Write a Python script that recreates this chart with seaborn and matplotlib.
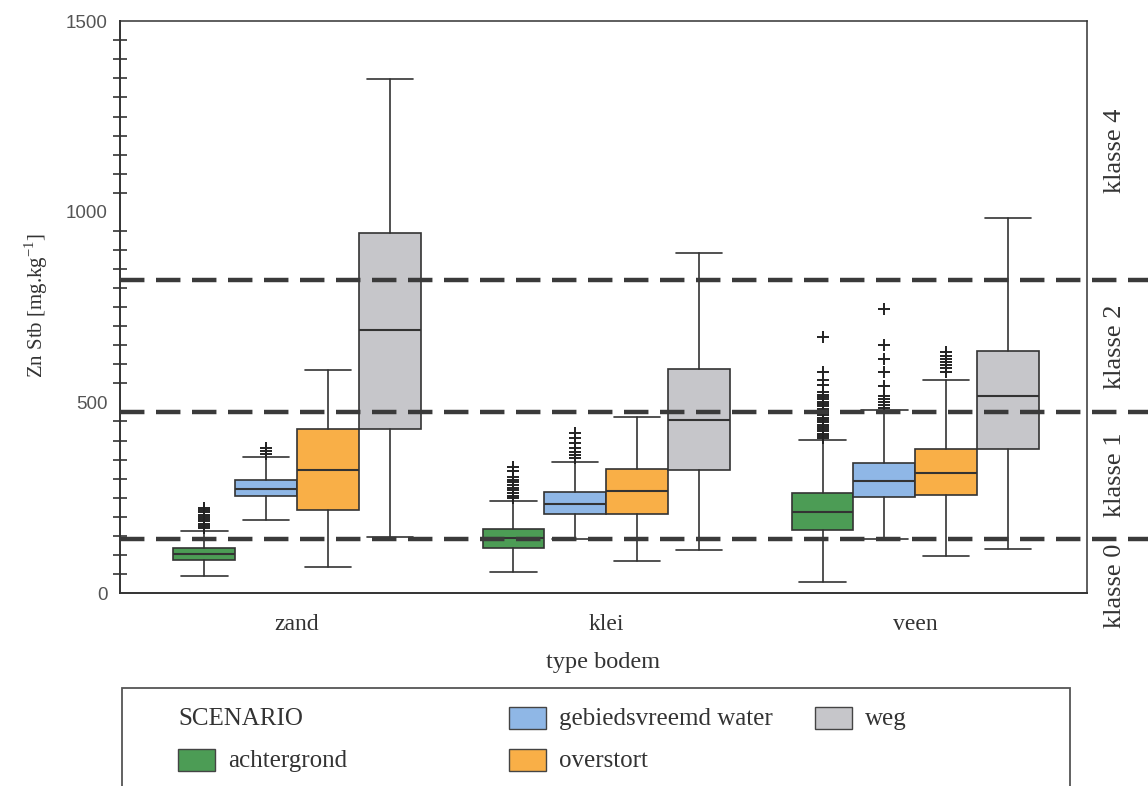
import numpy as np
import matplotlib
matplotlib.use("Agg")
from matplotlib import pyplot as plt
from matplotlib.patches import Rectangle
from matplotlib.ticker import MultipleLocator
import seaborn as sns

bodem = ["zand", "klei", "veen"]
scenarios = ["achtergrond", "gebiedsvreemd water", "overstort", "weg"]
scenario_colors = ["#4c9c55", "#8fb7e6", "#f9af47", "#c6c6ca"]

# box statistics: rows = scenario, columns = zand, klei, veen
whis_low = [[46, 56, 30], [192, 142, 142], [69, 84, 98], [147, 114, 116]]
q1 = [[87, 119, 166], [254, 207, 252], [218, 207, 257], [430, 322, 377]]
median = [[103, 145, 213], [273, 234, 294], [322, 268, 315], [690, 455, 516]]
q3 = [[119, 169, 263], [296, 265, 340], [429, 325, 377], [944, 589, 636]]
whis_high = [[163, 242, 401], [356, 343, 479], [586, 461, 560], [1349, 892, 983]]

outliers_achtergrond = [
    [170, 176, 182, 188, 194, 200, 206, 212, 218, 224],
    [248, 255, 262, 269, 276, 283, 290, 297, 304, 320, 330],
    [406, 412, 418, 424, 430, 436, 442, 448, 454, 460, 466, 472, 478,
     484, 490, 496, 502, 508, 514, 520, 527, 545, 560, 579, 672],
]
outliers_gebiedsvreemd = [
    [366, 372, 380],
    [354, 362, 370, 381, 394, 407, 420],
    [486, 492, 500, 508, 518, 544, 581, 615, 650, 744],
]
outliers_overstort = [[], [], [580, 590, 598, 606, 614, 622, 632]]
outliers_weg = [[], [], []]
outliers = [outliers_achtergrond, outliers_gebiedsvreemd, outliers_overstort, outliers_weg]

klasse_grenzen = [143, 475, 820]
klasse_labels = ["klasse 0", "klasse 1", "klasse 2", "klasse 4"]
klasse_label_y = [20, 309, 647, 1160]

sns.set_theme(style="white")
plt.rcParams["font.family"] = ["Liberation Serif", "DejaVu Serif"]
palette = sns.color_palette(scenario_colors)

fig = plt.figure(figsize=(11.48, 7.86), dpi=100)
ax = fig.add_axes([0.1045, 0.2455, 0.8425, 0.7275])

ink = "#333333"
box_w = 0.2
offsets = [-0.3, -0.1, 0.1, 0.3]
for s in range(len(scenarios)):
    stats = []
    for b in range(len(bodem)):
        stats.append(dict(whislo=whis_low[s][b], q1=q1[s][b], med=median[s][b],
                          q3=q3[s][b], whishi=whis_high[s][b], fliers=outliers[s][b]))
    pos = [b + offsets[s] for b in range(len(bodem))]
    ax.bxp(stats, positions=pos, widths=box_w, capwidths=box_w * 0.75,
           patch_artist=True, manage_ticks=False,
           boxprops=dict(facecolor=palette[s], edgecolor=ink, linewidth=1.2),
           medianprops=dict(color=ink, linewidth=1.5),
           whiskerprops=dict(color=ink, linewidth=1.2),
           capprops=dict(color=ink, linewidth=1.2),
           flierprops=dict(marker="+", markersize=9, markeredgecolor="#222222",
                           markeredgewidth=1.4, linestyle="none"))

for g in klasse_grenzen:
    ax.axhline(g, xmin=0, xmax=1.07, color="#3a3a3a", linewidth=3.2,
               dashes=(5.5, 2.6), clip_on=False, zorder=5)

for lab, yv in zip(klasse_labels, klasse_label_y):
    ax.text(1.029, yv, lab, transform=ax.get_yaxis_transform(), rotation=90,
            ha="center", va="center", fontsize=19, color=ink, clip_on=False)

ax.set_xlim(-0.573, 2.556)
ax.set_ylim(0, 1500)
ax.set_xticks(range(len(bodem)))
ax.set_xticklabels(bodem, fontsize=17, color=ink)
ax.yaxis.set_major_locator(MultipleLocator(500))
ax.yaxis.set_minor_locator(MultipleLocator(50))
ax.tick_params(axis="y", which="major", direction="inout", length=14, width=1.3,
               color=ink, labelsize=13.5, labelcolor="#555555", pad=2)
ax.tick_params(axis="y", which="minor", direction="inout", length=10, width=1.2,
               color=ink, left=True)
ax.tick_params(axis="x", which="major", direction="out", length=6, width=1.3,
               color=ink, pad=9)
for lab in ax.get_yticklabels():
    lab.set_fontfamily(["Liberation Sans", "DejaVu Sans"])
for sp in ax.spines.values():
    sp.set_color(ink)
    sp.set_linewidth(1.1)
ax.spines["left"].set_linewidth(1.4)
ax.spines["bottom"].set_linewidth(1.4)

ax.set_xlabel("type bodem", fontsize=17.5, color=ink, labelpad=12)
ax.set_ylabel(r"Zn Stb [mg.kg$^{\mathregular{-1}}$]", fontsize=15, color=ink)
ax.yaxis.set_label_coords(-0.072, 0.503)

# legend panel
W, H = 1148, 786
fig.add_artist(Rectangle((122 / W, -0.05), (1070 - 122) / W, 0.05 + (786 - 688) / H,
                         transform=fig.transFigure, facecolor="none",
                         edgecolor="#555555", linewidth=1.3, clip_on=False))
fig.text(178 / W, 1 - 719 / H, "SCENARIO", fontsize=18, color=ink, va="center")
legend_pos = [(178, 760), (509, 718), (509, 760), (815, 718)]
for s, (px, py) in enumerate(legend_pos):
    fig.add_artist(Rectangle((px / W, 1 - (py + 11) / H), 37 / W, 22 / H,
                             transform=fig.transFigure, facecolor=palette[s],
                             edgecolor="#444444", linewidth=1.0))
    fig.text((px + 50) / W, 1 - (py + 1) / H, scenarios[s], fontsize=18, color=ink,
             va="center")

fig.savefig("out.png", dpi=100, facecolor="white")
